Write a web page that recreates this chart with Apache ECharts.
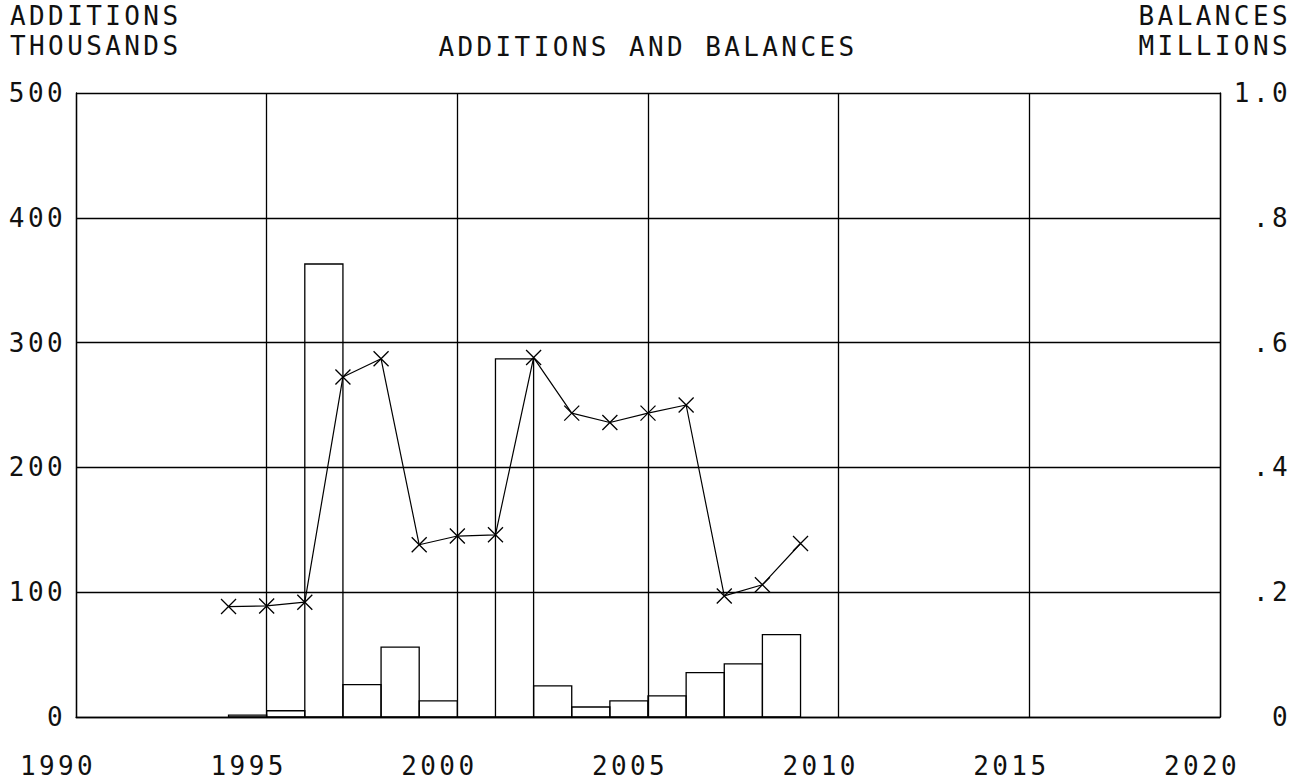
<!DOCTYPE html>
<html>
<head>
<meta charset="utf-8">
<script src="https://cdn.jsdelivr.net/npm/echarts@6/dist/echarts.min.js"></script>
<style>
  html, body { margin: 0; padding: 0; background: #fff; }
  #chart { width: 1295px; height: 784px; }
  #chart text { letter-spacing: 3.4px; }
</style>
</head>
<body>
<div id="chart"></div>
<script>
// ---- data ----
const xTicks = [1990, 1995, 2000, 2005, 2010, 2015, 2020];
const leftTicks = [0, 100, 200, 300, 400, 500];
const rightTicks = [0, 0.2, 0.4, 0.6, 0.8, 1.0];
const rightTickLabels = ['0', '.2', '.4', '.6', '.8', '1.0'];

// additions (thousands), one bar per year starting at barStart
const barStart  = [1994, 1995, 1996, 1997, 1998, 1999, 2000, 2001, 2002, 2003, 2004, 2005, 2006, 2007, 2008];
const additions = [1.5, 5, 363, 26, 56, 13, 0, 287, 25, 8, 13, 17, 35.5, 42.5, 66];

// balances (millions)
const balanceYears = [1994, 1995, 1996, 1997, 1998, 1999, 2000, 2001, 2002, 2003, 2004, 2005, 2006, 2007, 2008, 2009];
const balances     = [0.177, 0.178, 0.184, 0.545, 0.574, 0.276, 0.290, 0.292, 0.576, 0.487, 0.472, 0.487, 0.500, 0.194, 0.212, 0.278];

const titleText = 'ADDITIONS AND BALANCES';
const leftCaption = ['ADDITIONS', 'THOUSANDS'];
const rightCaption = ['BALANCES', 'MILLIONS'];

// ---- chart ----
const FONT = '"DejaVu Sans Mono", "Liberation Mono", monospace';
const FS = 26;
const INK = '#111';

const chart = echarts.init(document.getElementById('chart'), null, { renderer: 'svg' });

const barData = barStart.map((s, i) => [s, additions[i]]);
const lineData = balanceYears.map((y, i) => [y, balances[i]]);

const option = {
  animation: false,
  backgroundColor: '#fff',
  grid: { left: 76, right: 75, top: 93, bottom: 67, containLabel: false },
  graphic: [
    { type: 'text', x: 648, y: 47, style: { text: titleText, font: FS + 'px ' + FONT, fill: INK, textAlign: 'center', textVerticalAlign: 'middle' } },
    { type: 'text', x: 10, y: 16, style: { text: leftCaption[0], font: FS + 'px ' + FONT, fill: INK, textAlign: 'left', textVerticalAlign: 'middle' } },
    { type: 'text', x: 10, y: 46, style: { text: leftCaption[1], font: FS + 'px ' + FONT, fill: INK, textAlign: 'left', textVerticalAlign: 'middle' } },
    { type: 'text', x: 1291, y: 16, style: { text: rightCaption[0], font: FS + 'px ' + FONT, fill: INK, textAlign: 'right', textVerticalAlign: 'middle' } },
    { type: 'text', x: 1291, y: 46, style: { text: rightCaption[1], font: FS + 'px ' + FONT, fill: INK, textAlign: 'right', textVerticalAlign: 'middle' } }
  ],
  xAxis: {
    type: 'value',
    min: xTicks[0], max: xTicks[xTicks.length - 1], interval: xTicks[1] - xTicks[0],
    axisLine: { show: true, lineStyle: { color: '#000', width: 1.3 } },
    axisTick: { show: false },
    splitLine: { show: true, lineStyle: { color: '#000', width: 1.3 } },
    axisLabel: {
      color: INK, fontFamily: FONT, fontSize: FS, margin: 36,
      align: 'center', padding: [0, 36, 0, 0],
      formatter: v => String(v)
    }
  },
  yAxis: [
    {
      type: 'value', position: 'left',
      min: leftTicks[0], max: leftTicks[leftTicks.length - 1], interval: leftTicks[1] - leftTicks[0],
      axisLine: { show: true, lineStyle: { color: '#000', width: 1.3 } },
      axisTick: { show: false },
      splitLine: { show: true, lineStyle: { color: '#000', width: 1.3 } },
      axisLabel: { color: INK, fontFamily: FONT, fontSize: FS, margin: 10, align: 'right' }
    },
    {
      type: 'value', position: 'right',
      min: rightTicks[0], max: rightTicks[rightTicks.length - 1], interval: 0.2,
      axisLine: { show: true, lineStyle: { color: '#000', width: 1.3 } },
      axisTick: { show: false },
      splitLine: { show: false },
      axisLabel: {
        color: INK, fontFamily: FONT, fontSize: FS, margin: 71, align: 'right',
        formatter: v => {
          const idx = rightTicks.findIndex(t => Math.abs(t - v) < 1e-6);
          return idx >= 0 ? rightTickLabels[idx] : '';
        }
      }
    }
  ],
  series: [
    {
      type: 'custom',
      name: 'Additions',
      xAxisIndex: 0, yAxisIndex: 0,
      encode: { x: 0, y: 1 },
      data: barData,
      renderItem: function (params, api) {
        const x0 = api.value(0);
        const v = api.value(1);
        const p0 = api.coord([x0, 0]);
        const p1 = api.coord([x0 + 1, v]);
        return {
          type: 'rect',
          shape: { x: p0[0], y: p1[1], width: p1[0] - p0[0], height: p0[1] - p1[1] },
          style: { fill: 'none', stroke: '#000', lineWidth: 1.3 }
        };
      },
      z: 3
    },
    {
      type: 'line',
      name: 'Balances',
      xAxisIndex: 0, yAxisIndex: 1,
      data: lineData,
      symbol: 'path://M0,0L10,10M10,0L0,10',
      symbolSize: 15,
      lineStyle: { color: '#000', width: 1.2 },
      itemStyle: { color: 'none', borderColor: '#000', borderWidth: 1.3 },
      z: 4
    }
  ]
};

chart.setOption(option);
</script>
</body>
</html>
